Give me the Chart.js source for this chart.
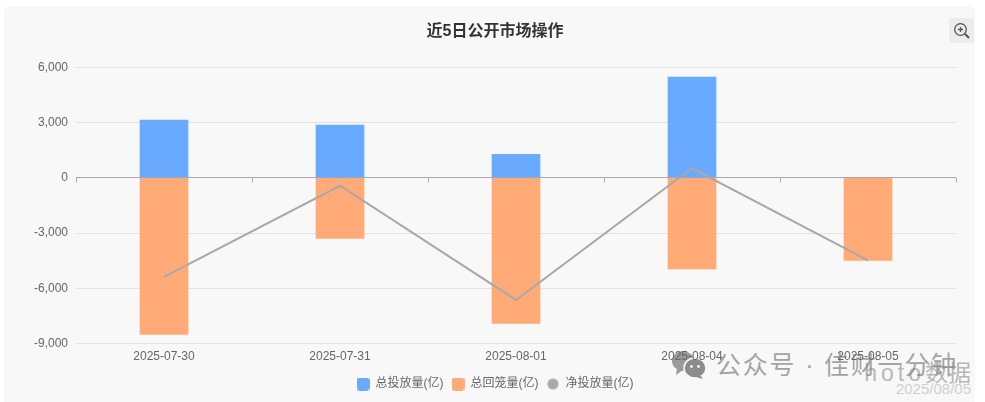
<!DOCTYPE html>
<html>
<head>
<meta charset="utf-8">
<style>
  html, body { margin: 0; padding: 0; background: #fff; }
  #wrap { position: relative; width: 985px; height: 402px; overflow: hidden; font-family: "Liberation Sans", "Noto Sans CJK SC", sans-serif; }
  #panel { position: absolute; left: 4px; top: 6px; width: 971px; height: 396px; background: #f8f8f8; border-radius: 6px 6px 0 0; }
  #myChart { position: absolute; left: 0; top: 0; z-index: 2; }
  #zoomBtn { position: absolute; left: 949px; top: 18px; width: 25px; height: 25px; background: #ececec; border-radius: 3px; z-index: 3; }
  #mark { position: absolute; left: 716px; top: 345px; font-size: 25px; letter-spacing: 1.8px; color: rgba(130,130,130,.72); white-space: nowrap; z-index: 1; }
  #logo { position: absolute; left: 671px; top: 350px; z-index: 1; }
  #source { position: absolute; right: 14px; top: 354px; font-size: 23px; color: rgba(165,165,165,.8); white-space: nowrap; z-index: 1; }
  #source span { letter-spacing: 4px; }
  #date { position: absolute; right: 14px; top: 380px; font-size: 15px; color: #d0d0d0; white-space: nowrap; z-index: 1; }
</style>
</head>
<body>
<div id="wrap">
  <div id="panel"></div>
  <canvas id="myChart" width="985" height="402"></canvas>
  <div id="zoomBtn">
    <svg width="25" height="25" viewBox="0 0 25 25" fill="none" stroke="#555" stroke-width="1.3">
      <circle cx="11.5" cy="11.5" r="5.8"/>
      <path d="M15.8 15.8 L20 20" stroke-width="2"/>
      <path d="M9 11.5 H14 M11.5 9 V14"/>
    </svg>
  </div>
  <div id="source"><span>hoto</span>数据</div>
  <svg id="logo" width="38" height="30" viewBox="0 0 38 30">
    <ellipse cx="12" cy="11" rx="11" ry="10" fill="#9b9b9b"/>
    <path d="M6 18 L5 25 L12 20 Z" fill="#9b9b9b"/>
    <ellipse cx="24" cy="18" rx="11" ry="10" fill="#8c8c8c" stroke="#f8f8f8" stroke-width="1.5"/>
    <path d="M29 25 L32 29 L25 27 Z" fill="#8c8c8c"/>
    <circle cx="20.5" cy="16.5" r="1.4" fill="#f8f8f8"/>
    <circle cx="27.5" cy="16.5" r="1.4" fill="#f8f8f8"/>
  </svg>
  <div id="mark">公众号 · 佳财一分钟</div>
  <div id="date">2025/08/05</div>
</div>

<script src="https://cdn.jsdelivr.net/npm/chart.js@4"></script>
<script>
const dates = ['2025-07-30', '2025-07-31', '2025-08-01', '2025-08-04', '2025-08-05'];
const invest = [3125, 2855, 1275, 5460, null];
const mature = [-8505, -3290, -7905, -4945, -4485];
const net = [-5380, -435, -6630, 515, -4485];
const yTicks = [6000, 3000, 0, -3000, -6000, -9000];

const ctx = document.getElementById('myChart');
const textFont = '"Liberation Sans", "Noto Sans CJK SC", sans-serif';

// legend swatches, the built-in point styles scale too large at this size
function swatch(color, round) {
  const c = document.createElement('canvas');
  c.width = 13;
  c.height = 13;
  const g = c.getContext('2d');
  g.fillStyle = color;
  g.beginPath();
  if (round) {
    g.arc(6.5, 6.5, 5.5, 0, Math.PI * 2);
  } else {
    g.roundRect(0, 0, 13, 13, 3);
  }
  g.fill();
  return c;
}

// ticks hanging off the zero line, one at each category edge
const zeroTicks = {
  id: 'zeroTicks',
  beforeDatasetsDraw(chart) {
    const x = chart.scales.x, y0 = chart.scales.y.getPixelForValue(0);
    const c = chart.ctx;
    const step = x.width / dates.length;
    c.save();
    c.strokeStyle = '#b0b0b0';
    c.lineWidth = 1;
    c.beginPath();
    for (let i = 0; i <= dates.length; i++) {
      const px = Math.round(x.left + step * i) + 0.5;
      c.moveTo(px, y0);
      c.lineTo(px, y0 + 5);
    }
    c.stroke();
    c.restore();
  }
};

new Chart(ctx, {
  data: {
    labels: dates,
    datasets: [
      { type: 'bar', label: '总投放量(亿)', data: invest, backgroundColor: '#69aaff', barThickness: 48, order: 2, pointStyle: swatch('#69aaff') },
      { type: 'bar', label: '总回笼量(亿)', data: mature, backgroundColor: '#ffaa77', barThickness: 48, order: 2, pointStyle: swatch('#ffaa77') },
      { type: 'line', label: '净投放量(亿)', data: net, borderColor: '#a9a9a9', backgroundColor: '#a9a9a9', borderWidth: 2, tension: 0, pointRadius: 0, order: 1, pointStyle: swatch('#a9a9a9', true) }
    ]
  },
  options: {
    responsive: false,
    animation: false,
    layout: { padding: { left: 34, right: 29, top: 22, bottom: 2 } },
    plugins: {
      title: {
        display: true,
        text: '近5日公开市场操作',
        color: '#333',
        font: { family: textFont, size: 16, weight: 'bold' },
        padding: { top: 0, bottom: 26 }
      },
      legend: {
        position: 'bottom',
        labels: {
          usePointStyle: true,
          pointStyleWidth: 13,
          boxHeight: 12,
          padding: 8,
          color: '#666',
          font: { family: textFont, size: 12 },
          sort: (a, b) => a.datasetIndex - b.datasetIndex
        }
      },
      tooltip: { enabled: false }
    },
    scales: {
      x: {
        stacked: true,
        grid: { display: false, drawTicks: false },
        border: { display: false },
        ticks: { color: '#666', font: { family: textFont, size: 12 }, padding: 6, maxRotation: 0 }
      },
      y: {
        stacked: true,
        min: -9000,
        max: 6000,
        afterBuildTicks(scale) { scale.ticks = yTicks.map(v => ({ value: v })); },
        afterFit(scale) { scale.width = 42; },
        grid: {
          color: c => c.tick.value === 0 ? '#aaaaaa' : '#e2e2e2',
          drawTicks: false
        },
        border: { display: false },
        ticks: {
          color: '#666',
          font: { family: textFont, size: 12 },
          padding: 8,
          callback: v => v.toLocaleString('en-US')
        }
      }
    }
  },
  plugins: [zeroTicks]
});
</script>
</body>
</html>
